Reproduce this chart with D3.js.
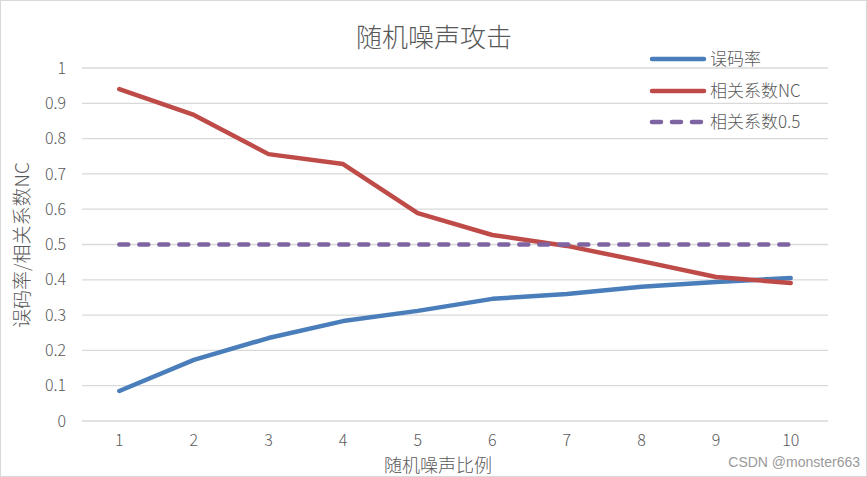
<!DOCTYPE html>
<html><head><meta charset="utf-8">
<script src="https://cdn.jsdelivr.net/npm/d3@7"></script>
<style>body{margin:0;background:#fff;} svg{display:block;}</style>
</head><body>
<svg id="chart" width="867" height="477"></svg>
<script>
const categories = [1,2,3,4,5,6,7,8,9,10];
const errorRate = [0.085,0.173,0.235,0.283,0.312,0.346,0.360,0.380,0.394,0.405];
const ncValues = [0.940,0.867,0.756,0.728,0.589,0.527,0.496,0.453,0.408,0.391];
const threshold = [0.5,0.5,0.5,0.5,0.5,0.5,0.5,0.5,0.5,0.5];
const yTicks = [0,0.1,0.2,0.3,0.4,0.5,0.6,0.7,0.8,0.9,1];
const seriesNames = ["误码率","相关系数NC","相关系数0.5"];
const colors = ["#4a7ebb","#be4b48","#7f64a2"];

const svg = d3.select("#chart");
const font = "'Noto Sans CJK SC', 'Noto Sans', sans-serif";
const txt = "#595959";
svg.append("rect").attr("x",0.5).attr("y",0.5).attr("width",866).attr("height",476)
  .attr("fill","#fff").attr("stroke","#d9d9d9");

const x = d3.scaleBand().domain(categories).range([82,828]);
const y = d3.scaleLinear().domain([0,1]).range([421,68]);

// gridlines
svg.append("g").selectAll("line").data(yTicks).join("line")
  .attr("x1",82).attr("x2",828).attr("y1",d=>y(d)).attr("y2",d=>y(d))
  .attr("stroke","#d9d9d9").attr("stroke-width",1.3);

// y axis labels
const yAxis = d3.axisLeft(y).tickValues(yTicks).tickSize(0).tickPadding(0).tickFormat(d=>String(+d.toFixed(1)));
const gy = svg.append("g").attr("transform","translate(66,0)").call(yAxis);
gy.select(".domain").remove();
gy.selectAll("text").attr("font-family",font).attr("font-size",16).attr("font-weight",300).attr("fill",txt);

// x axis labels
const xAxis = d3.axisBottom(x).tickSize(0).tickPadding(0);
const gx = svg.append("g").attr("transform","translate(0,435)").call(xAxis);
gx.select(".domain").remove();
gx.selectAll("text").attr("font-family",font).attr("font-size",16).attr("font-weight",300).attr("fill",txt).attr("dy","0.71em");

const cx = d => x(d) + x.bandwidth()/2;
const line = d3.line().x((d,i)=>cx(categories[i])).y(d=>y(d));

const seriesData = [errorRate, ncValues, threshold];
seriesData.forEach((s,k)=>{
  svg.append("path").datum(s).attr("d",line).attr("fill","none")
    .attr("stroke",colors[k]).attr("stroke-width",4.5)
    .attr("stroke-linejoin","round")
    .attr("stroke-linecap","round")
    .attr("stroke-dasharray", k===2 ? "9,11" : null);
});

// title
svg.append("text").attr("x",434).attr("y",47).attr("text-anchor","middle")
  .attr("font-family",font).attr("font-size",26).attr("font-weight",300).attr("fill",txt).text("随机噪声攻击");

// axis titles
svg.append("text").attr("x",438).attr("y",472).attr("text-anchor","middle")
  .attr("font-family",font).attr("font-size",18).attr("font-weight",300).attr("fill",txt).text("随机噪声比例");
svg.append("text").attr("transform","translate(29,245) rotate(-90)").attr("text-anchor","middle")
  .attr("font-family",font).attr("font-size",19).attr("font-weight",300).attr("fill",txt).text("误码率/相关系数NC");

// legend
const legY = [59,91,122];
seriesNames.forEach((n,k)=>{
  svg.append("line").attr("x1",652).attr("x2",704).attr("y1",legY[k]).attr("y2",legY[k])
    .attr("stroke",colors[k]).attr("stroke-width",4.5).attr("stroke-linecap","round")
    .attr("stroke-dasharray", k===2 ? "9,11" : null);
  svg.append("text").attr("x",710).attr("y",legY[k]).attr("dy","0.35em")
    .attr("font-family",font).attr("font-size",17).attr("font-weight",300).attr("fill",txt).text(n);
});

// watermark
svg.append("text").attr("x",860).attr("y",467).attr("text-anchor","end")
  .attr("font-family","'Liberation Sans', Arial, sans-serif").attr("font-size",14).attr("fill","#9a9a9a")
  .text("CSDN @monster663");
</script>
</body></html>
